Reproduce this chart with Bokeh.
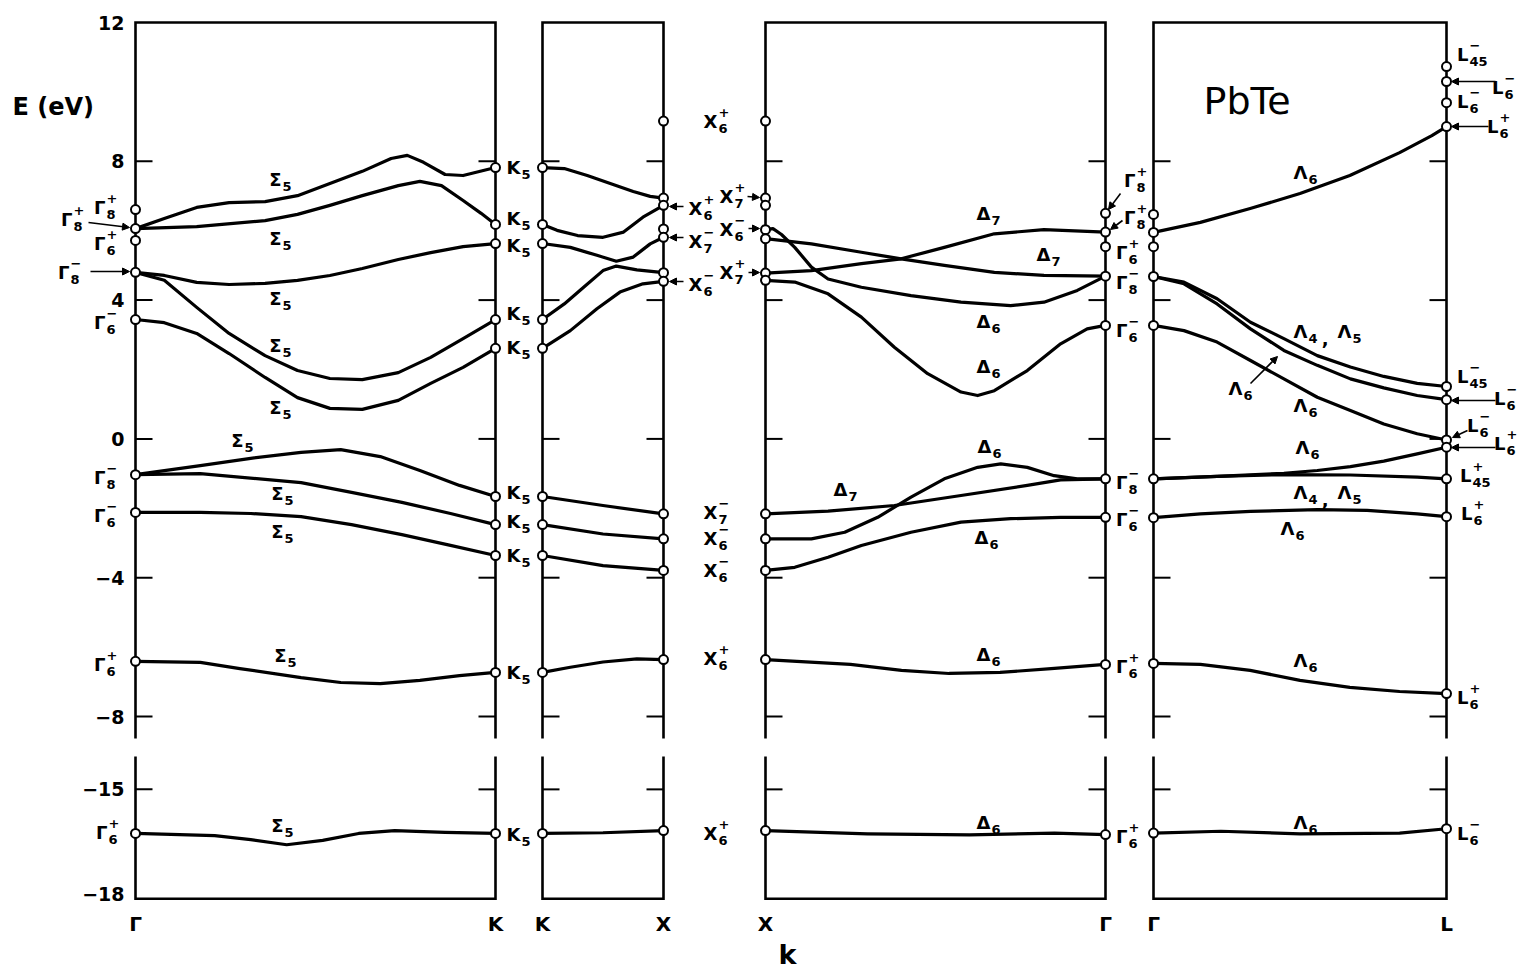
from bokeh.plotting import figure
from bokeh.layouts import column
from bokeh.models import (ColumnDataSource, LabelSet, Label, Arrow, NormalHead,
                          FixedTicker, Range1d)
from bokeh.core.properties import value
from bokeh.embed import file_html
from bokeh.resources import INLINE

# ------------------------------------------------------------------ data
# Each band: (k = fractional position along the path segment, E in eV)

# Γ -> K
GK_BANDS = [
    ([0, .08, .17, .26, .36, .45, .54, .63, .71, .755, .80, .86, .91, 1.0],
     [6.06, 6.35, 6.67, 6.81, 6.84, 7.01, 7.36, 7.71, 8.08, 8.17, 7.97, 7.62, 7.59, 7.82]),
    ([0, .17, .36, .45, .54, .63, .73, .79, .85, .91, .96, 1.0],
     [6.06, 6.12, 6.29, 6.47, 6.73, 7.01, 7.30, 7.42, 7.30, 6.87, 6.50, 6.18]),
    ([0, .08, .17, .26, .36, .45, .54, .63, .73, .82, .91, 1.0],
     [4.80, 4.71, 4.51, 4.45, 4.48, 4.57, 4.71, 4.91, 5.17, 5.37, 5.54, 5.63]),
    ([0, .08, .17, .26, .36, .45, .54, .63, .73, .82, .91, 1.0],
     [4.80, 4.57, 3.79, 3.04, 2.40, 1.97, 1.74, 1.71, 1.91, 2.35, 2.89, 3.44]),
    ([0, .08, .17, .26, .36, .45, .54, .63, .73, .82, .91, 1.0],
     [3.44, 3.35, 3.04, 2.46, 1.77, 1.19, 0.88, 0.85, 1.11, 1.60, 2.06, 2.61]),
    ([0, .18, .32, .46, .57, .68, .79, .90, 1.0],
     [-1.03, -0.77, -0.56, -0.39, -0.31, -0.51, -0.91, -1.34, -1.66]),
    ([0, .18, .46, .60, .74, .875, 1.0],
     [-1.03, -1.00, -1.26, -1.54, -1.83, -2.15, -2.47]),
    ([0, .18, .32, .46, .60, .74, .875, 1.0],
     [-2.12, -2.12, -2.15, -2.24, -2.47, -2.76, -3.07, -3.36]),
    ([0, .18, .29, .46, .57, .68, .79, .90, 1.0],
     [-6.41, -6.44, -6.62, -6.88, -7.02, -7.05, -6.96, -6.82, -6.73]),
    ([0, .22, .32, .42, .52, .62, .72, .86, 1.0],
     [-16.21, -16.27, -16.38, -16.52, -16.40, -16.21, -16.13, -16.18, -16.21]),
]

# K -> X
KX_BANDS = [
    ([0, .18, .37, .56, .75, .89, 1.0], [7.82, 7.79, 7.59, 7.36, 7.13, 6.99, 6.94]),
    ([0, .12, .29, .50, .67, .83, 1.0], [6.18, 6.01, 5.86, 5.81, 5.96, 6.39, 6.73]),
    ([0, .23, .45, .61, .75, .89, 1.0], [5.63, 5.52, 5.29, 5.12, 5.24, 5.62, 5.81]),
    ([0, .18, .34, .50, .61, .78, 1.0], [3.44, 3.89, 4.37, 4.85, 4.98, 4.87, 4.79]),
    ([0, .23, .45, .64, .83, 1.0], [2.61, 3.12, 3.75, 4.23, 4.47, 4.54]),
    ([0, .5, 1.0], [-1.66, -1.92, -2.16]),
    ([0, .5, 1.0], [-2.47, -2.74, -2.88]),
    ([0, .5, 1.0], [-3.36, -3.65, -3.79]),
    ([0, .23, .5, .78, 1.0], [-6.73, -6.58, -6.43, -6.34, -6.36]),
    ([0, .5, 1.0], [-16.21, -16.19, -16.13]),
]

# X -> Γ
XG_BANDS = [
    ([0, .135, .282, .399, .526, .673, .819, 1.0],
     [4.78, 4.85, 5.05, 5.19, 5.52, 5.91, 6.03, 5.96]),
    ([0, .135, .282, .399, .526, .673, .819, 1.0],
     [5.77, 5.62, 5.38, 5.19, 5.00, 4.80, 4.71, 4.69]),
    ([0, .022, .047, .086, .135, .184, .282, .428, .575, .721, .819, .917, 1.0],
     [6.03, 6.06, 5.89, 5.52, 4.95, 4.61, 4.37, 4.13, 3.94, 3.84, 3.94, 4.28, 4.69]),
    ([0, .086, .184, .282, .379, .477, .575, .624, .673, .770, .868, .946, 1.0],
     [4.57, 4.52, 4.18, 3.51, 2.64, 1.88, 1.35, 1.25, 1.39, 1.97, 2.74, 3.17, 3.27]),
    ([0, .184, .379, .575, .770, .868, 1.0],
     [-2.16, -2.08, -1.92, -1.63, -1.34, -1.18, -1.15]),
    ([0, .135, .233, .330, .428, .526, .624, .692, .770, .849, .917, 1.0],
     [-2.88, -2.88, -2.69, -2.26, -1.68, -1.15, -0.82, -0.72, -0.82, -1.06, -1.15, -1.15]),
    ([0, .086, .184, .282, .428, .575, .721, .868, 1.0],
     [-3.79, -3.70, -3.41, -3.07, -2.69, -2.40, -2.30, -2.26, -2.26]),
    ([0, .25, .40, .54, .69, .84, 1.0],
     [-6.36, -6.50, -6.67, -6.76, -6.73, -6.62, -6.50]),
    ([0, .3, .6, .85, 1.0], [-16.13, -16.22, -16.25, -16.20, -16.24]),
]

# Γ -> L
GL_BANDS = [
    ([0, .16, .33, .50, .67, .84, .95, 1.0],
     [5.95, 6.24, 6.64, 7.07, 7.59, 8.25, 8.74, 9.00]),
    ([0, .104, .217, .331, .445, .559, .672, .786, .900, 1.0],
     [4.68, 4.52, 4.04, 3.36, 2.89, 2.40, 2.07, 1.80, 1.60, 1.51]),
    ([0, .104, .217, .331, .445, .559, .672, .786, .900, 1.0],
     [4.68, 4.47, 3.89, 3.17, 2.55, 2.12, 1.73, 1.47, 1.25, 1.13]),
    ([0, .104, .217, .331, .445, .559, .672, .786, .900, 1.0],
     [3.27, 3.12, 2.79, 2.26, 1.73, 1.20, 0.82, 0.43, 0.15, -0.03]),
    ([0, .217, .445, .559, .672, .786, .900, 1.0],
     [-1.15, -1.08, -0.99, -0.91, -0.80, -0.64, -0.43, -0.24]),
    ([0, .217, .445, .672, .900, 1.0], [-1.15, -1.08, -1.03, -1.04, -1.10, -1.15]),
    ([0, .160, .331, .559, .729, .900, 1.0], [-2.27, -2.16, -2.09, -2.04, -2.06, -2.16, -2.24]),
    ([0, .16, .33, .50, .67, .84, 1.0], [-6.47, -6.50, -6.67, -6.96, -7.16, -7.28, -7.34]),
    ([0, .23, .50, .84, 1.0], [-16.20, -16.15, -16.22, -16.20, -16.08]),
]

# symmetry-point energies (open circles), eV
GAMMA_P1 = [6.61, 6.06, 5.72, 4.80, 3.44, -1.03, -2.12, -6.41, -16.21]
K_P1 = [7.82, 6.18, 5.63, 3.44, 2.61, -1.66, -2.47, -3.36, -6.73, -16.21]
K_P2 = [7.82, 6.18, 5.63, 3.44, 2.61, -1.66, -2.47, -3.36, -6.73, -16.21]
X_P2 = [9.16, 6.94, 6.73, 6.05, 5.81, 4.79, 4.54, -2.16, -2.88, -3.79, -6.36, -16.13]
X_P3 = [9.16, 6.94, 6.73, 6.03, 5.77, 4.78, 4.57, -2.16, -2.88, -3.79, -6.36, -16.13]
GAMMA_P3 = [6.50, 5.96, 5.54, 4.69, 3.27, -1.15, -2.26, -6.50, -16.24]
GAMMA_P4 = [6.47, 5.95, 5.54, 4.68, 3.27, -1.15, -2.27, -6.47, -16.20]
L_P4 = [10.73, 10.30, 9.69, 9.00, 1.51, 1.13, -0.03, -0.24, -1.15, -2.24, -7.34, -16.08]

Y_TICK_E = [12, 8, 4, 0, -4, -8, -15, -18]
Y_TICK_LABELS = ["12", "8", "4", "0", "\u22124", "\u22128", "\u221215", "\u221218"]
K_POINT_LABELS = ["\u0393", "K", "K", "X", "X", "\u0393", "\u0393", "L"]
PANEL_TICK_E = [8, 4, 0, -4, -8]
PANEL_TICK_E_LOW = [-15]

# ------------------------------------------------------------------ layout
PANELS = [(135, 495), (542, 663), (765, 1105), (1153, 1446)]  # horizontal px
PX_PER_EV = 34.7
LOW_REF_E, LOW_REF_D, LOW_SCALE = -15.0, -10.1, 1.05
UPPER_END_PIX, LOWER_START_PIX = 738, 756
TICK_LEN = 17
YLABEL_RIGHT = 124
YLABEL_NUDGE_PX = {-18: -5}
FRAME_BOTTOM_PX = 905
WIDTH = 1522
K_STRIP_AXIS, K_STRIP_FRAME = 33, 32     # heights of the k-label strip parts (px)
K_LABEL_X = 787


def disp(e):
    """energy -> vertical display coordinate (lower section below a break)"""
    return e if e > -12 else LOW_REF_D + (e - LOW_REF_E) * LOW_SCALE


def pix(ypix):
    """pixel row -> display coordinate (annotation placement)"""
    return 12.0 - (ypix - 22.0) / PX_PER_EV


G, S, D, L_, LA = "\u0393", "\u03a3", "\u0394", "L", "\u039b"
M, P = "\u2212", "+"
# (base, subscript, superscript, right edge of base [px], centre row [px])
SYMBOLS = [
    (G, "8", P, 105, 207), (G, "8", P, 72, 219), (G, "6", P, 105, 243),
    (G, "8", M, 69, 272), (G, "6", M, 105, 322), (G, "8", M, 105, 477),
    (G, "6", M, 105, 515), (G, "6", P, 105, 664), (G, "6", P, 107, 832),
    (S, "5", "", 281, 179), (S, "5", "", 281, 238), (S, "5", "", 281, 298),
    (S, "5", "", 281, 345), (S, "5", "", 281, 407), (S, "5", "", 243, 440),
    (S, "5", "", 283, 493), (S, "5", "", 283, 531), (S, "5", "", 286, 655),
    (S, "5", "", 283, 825),
    ("K", "5", "", 520, 167), ("K", "5", "", 520, 218), ("K", "5", "", 520, 245),
    ("K", "5", "", 520, 313), ("K", "5", "", 520, 347), ("K", "5", "", 520, 492),
    ("K", "5", "", 520, 521), ("K", "5", "", 520, 555), ("K", "5", "", 520, 672),
    ("K", "5", "", 520, 834),
    ("X", "6", P, 717, 121), ("X", "6", P, 702, 208), ("X", "7", M, 702, 241),
    ("X", "6", M, 702, 284), ("X", "7", P, 733, 196), ("X", "6", M, 733, 229),
    ("X", "7", P, 733, 272), ("X", "7", M, 717, 512), ("X", "6", M, 717, 538),
    ("X", "6", M, 717, 570), ("X", "6", P, 717, 658), ("X", "6", P, 717, 833),
    (G, "8", P, 1135, 180), (G, "8", P, 1135, 217), (G, "6", P, 1127, 252),
    (G, "8", M, 1127, 282), (G, "6", M, 1127, 330), (G, "8", M, 1127, 482),
    (G, "6", M, 1127, 519), (G, "6", P, 1127, 666), (G, "6", P, 1127, 836),
    (D, "7", "", 990, 213), (D, "7", "", 1050, 254), (D, "6", "", 990, 321),
    (D, "6", "", 990, 366), (D, "6", "", 991, 446), (D, "7", "", 847, 489),
    (D, "6", "", 988, 537), (D, "6", "", 990, 654), (D, "6", "", 990, 822),
    (LA, "6", "", 1307, 172), (LA, "4", "", 1307, 331), (LA, "5", "", 1351, 331),
    (LA, "6", "", 1242, 388), (LA, "6", "", 1307, 405), (LA, "6", "", 1309, 447),
    (LA, "4", "", 1307, 492), (LA, "5", "", 1351, 492), (LA, "6", "", 1294, 528),
    (LA, "6", "", 1307, 660), (LA, "6", "", 1307, 822),
    (L_, "45", M, 1468, 54), (L_, "6", M, 1503, 87), (L_, "6", M, 1468, 101),
    (L_, "6", P, 1498, 126), (L_, "45", M, 1468, 376), (L_, "6", M, 1505, 398),
    (L_, "6", M, 1478, 425), (L_, "6", P, 1505, 443), (L_, "45", P, 1471, 475),
    (L_, "6", P, 1472, 513), (L_, "6", P, 1468, 697), (L_, "6", M, 1468, 833),
]
COMMAS = [(1328, 338), (1328, 499)]

# arrows (start x, start row, end x, end row) in px
ARROWS = [
    (88, 222, 129, 227), (90, 271, 129, 271),
    (683, 206, 669, 206), (683, 237, 669, 237), (683, 281, 669, 281),
    (747, 196, 759, 197), (748, 228, 759, 228), (748, 272, 759, 272),
    (1120, 193, 1108, 209), (1122, 220, 1110, 229),
    (1250, 383, 1277, 356),
    (1495, 81, 1451, 81), (1488, 126, 1451, 126), (1495, 400, 1451, 400),
    (1467, 430, 1452, 437), (1495, 447, 1451, 447),
]

# ------------------------------------------------------------------ main figure
FONT = "DejaVu Sans"
p = figure(frame_width=WIDTH, frame_height=FRAME_BOTTOM_PX,
           x_range=Range1d(0, WIDTH), y_range=Range1d(pix(FRAME_BOTTOM_PX), pix(0)),
           output_backend="svg", toolbar_location=None, title=None,
           min_border_left=0, min_border_right=0, min_border_top=0,
           min_border_bottom=0)
p.outline_line_color = None
p.grid.visible = False
p.axis.visible = False
p.background_fill_color = "white"
p.border_fill_color = "white"

# energy tick labels (beside the first panel)
p.text(x=[YLABEL_RIGHT] * len(Y_TICK_E),
       y=[disp(e) - YLABEL_NUDGE_PX.get(e, 0) / PX_PER_EV for e in Y_TICK_E],
       text=Y_TICK_LABELS, text_align="right", text_baseline="middle", text_color="black",
       text_font=value(FONT), text_font_size="19px", text_font_style="bold")

# panel frames (upper section open at the bottom, lower section open at the top)
up_bot, low_top, low_bot = pix(UPPER_END_PIX), pix(LOWER_START_PIX), disp(-18)
fx, fy = [], []
for l, r in PANELS:
    fx.append([l, l, r, r]); fy.append([up_bot, 12, 12, up_bot])
    fx.append([l, l, r, r]); fy.append([low_top, low_bot, low_bot, low_top])
p.multi_line(fx, fy, line_color="black", line_width=2.6, line_join="miter")

# inward tick marks on every panel edge
tx0, tx1, ty = [], [], []
for l, r in PANELS:
    for e in PANEL_TICK_E + PANEL_TICK_E_LOW:
        tx0 += [l, r - TICK_LEN]; tx1 += [l + TICK_LEN, r]; ty += [disp(e), disp(e)]
p.segment(x0=tx0, y0=ty, x1=tx1, y1=ty, line_color="black", line_width=2)

# bands
bxs, bys = [], []
for (l, r), bands in zip(PANELS, [GK_BANDS, KX_BANDS, XG_BANDS, GL_BANDS]):
    for ks, es in bands:
        bxs.append([l + k * (r - l) for k in ks])
        bys.append([disp(e) for e in es])
p.multi_line(bxs, bys, line_color="black", line_width=3.2, line_cap="round",
             line_join="round")

# open circles at the symmetry points
edges = [e for pan in PANELS for e in pan]
cx, cy = [], []
for edge, vals in zip(edges, [GAMMA_P1, K_P1, K_P2, X_P2, X_P3, GAMMA_P3, GAMMA_P4, L_P4]):
    cx += [edge] * len(vals)
    cy += [disp(e) for e in vals]
p.scatter(cx, cy, marker="circle", size=9, fill_color="white", line_color="black",
          line_width=2)

# arrows
asrc = ColumnDataSource(dict(x0=[a[0] for a in ARROWS], y0=[pix(a[1]) for a in ARROWS],
                             x1=[a[2] for a in ARROWS], y1=[pix(a[3]) for a in ARROWS]))
p.add_layout(Arrow(end=NormalHead(size=7, fill_color="black", line_color="black", line_width=1),
                   x_start="x0", y_start="y0", x_end="x1", y_end="y1", source=asrc,
                   line_color="black", line_width=1.6))

# symbol labels: base letter + stacked super/subscripts
bsrc = ColumnDataSource(dict(x=[s[3] for s in SYMBOLS] + [c[0] for c in COMMAS],
                             y=[pix(s[4]) for s in SYMBOLS] + [pix(c[1]) for c in COMMAS],
                             t=[s[0] for s in SYMBOLS] + [","] * len(COMMAS)))
sub = [s for s in SYMBOLS if s[1]]
sup = [s for s in SYMBOLS if s[2]]
ssrc = ColumnDataSource(dict(x=[s[3] + 1 for s in sub], y=[pix(s[4] + 7) for s in sub],
                             t=[s[1] for s in sub]))
usrc = ColumnDataSource(dict(x=[s[3] + 1 for s in sup], y=[pix(s[4] - 9) for s in sup],
                             t=[s[2] for s in sup]))
common = dict(x="x", y="y", text="t", text_baseline="middle", text_color="black",
              text_font=value(FONT), text_font_style="bold")
p.add_layout(LabelSet(source=bsrc, text_align="right", text_font_size="18px", **common))
p.add_layout(LabelSet(source=ssrc, text_align="left", text_font_size="13px", **common))
p.add_layout(LabelSet(source=usrc, text_align="left", text_font_size="13px", **common))

p.add_layout(Label(x=12, y=pix(106), text="E (eV)", text_align="left", text_baseline="middle",
                   text_font=FONT, text_font_size="24px", text_font_style="bold",
                   text_color="black"))
p.add_layout(Label(x=1203, y=pix(100), text="PbTe", text_align="left", text_baseline="middle",
                   text_font=FONT, text_font_size="38px", text_color="black"))

# ------------------------------------------------------------------ k axis strip
pk = figure(frame_width=WIDTH, frame_height=K_STRIP_FRAME,
            x_range=Range1d(0, WIDTH), y_range=Range1d(0, 1), x_axis_location="above",
            output_backend="svg", toolbar_location=None, title=None,
            min_border_left=0, min_border_right=0, min_border_top=K_STRIP_AXIS,
            min_border_bottom=0)
pk.outline_line_color = None
pk.grid.visible = False
pk.yaxis.visible = False
pk.background_fill_color = "white"
pk.border_fill_color = "white"
pk.xaxis.ticker = FixedTicker(ticks=edges)
pk.xaxis.major_label_overrides = {e: lab for e, lab in zip(edges, K_POINT_LABELS)}
pk.xaxis.axis_line_color = None
pk.xaxis.major_tick_line_color = None
pk.xaxis.minor_tick_line_color = None
pk.xaxis.major_tick_out = 0
pk.xaxis.major_tick_in = 0
pk.xaxis.minor_tick_out = 0
pk.xaxis.major_label_standoff = 3
pk.xaxis.major_label_text_font = FONT
pk.xaxis.major_label_text_font_size = "20px"
pk.xaxis.major_label_text_font_style = "bold"
pk.xaxis.major_label_text_color = "black"
pk.text(x=[K_LABEL_X], y=[0.5], text=["k"], text_align="center", text_baseline="middle",
        text_color="black", text_font=value(FONT), text_font_size="27px",
        text_font_style="bold")

layout = column(p, pk, spacing=0)
open("out.html", "w").write(file_html(layout, INLINE))
